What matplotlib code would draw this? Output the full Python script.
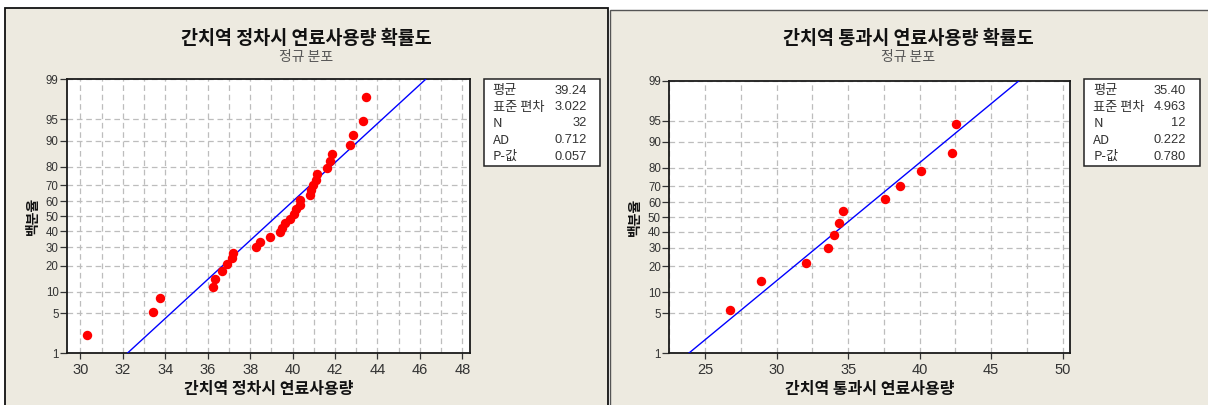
import numpy as np
import matplotlib
matplotlib.use("Agg")
import matplotlib.pyplot as plt
from matplotlib.patches import Rectangle
from matplotlib.ticker import FixedLocator, MultipleLocator, NullLocator
from statistics import NormalDist

# ---- data -------------------------------------------------------------
stop_fuel = [30.33, 33.44, 33.77, 36.23, 36.34, 36.69, 36.89, 37.13, 37.18,
             38.29, 38.46, 38.95, 39.43, 39.52, 39.63, 39.87, 40.07, 40.16,
             40.36, 40.36, 40.80, 40.87, 40.97, 41.11, 41.17, 41.64, 41.75,
             41.84, 42.72, 42.83, 43.31, 43.46]
pass_fuel = [26.77, 28.89, 32.06, 33.62, 34.04, 34.34, 34.62, 37.60, 38.61,
             40.07, 42.24, 42.56]

stop_stats = {"mean": 39.24, "sd": 3.022, "n": 32, "ad": 0.712, "p": 0.057}
pass_stats = {"mean": 35.40, "sd": 4.963, "n": 12, "ad": 0.222, "p": 0.780}

stat_labels = ["평균", "표준 편차", "N", "AD", "P-값"]
pct_ticks = [1, 5, 10, 20, 30, 40, 50, 60, 70, 80, 90, 95, 99]

stop_title = "간치역 정차시 연료사용량 확률도"
pass_title = "간치역 통과시 연료사용량 확률도"
subtitle = "정규 분포"
stop_xlabel = "간치역 정차시 연료사용량"
pass_xlabel = "간치역 통과시 연료사용량"
ylabel = "백분율"

# ---- styling ----------------------------------------------------------
W, H = 1208, 405
BG = "#EDEAE0"
KR = ["Noto Sans CJK KR", "DejaVu Sans"]
NUM = ["Liberation Sans", "DejaVu Sans"]
plt.rcParams["font.family"] = KR

_nd = NormalDist()
_ppf = np.vectorize(_nd.inv_cdf, otypes=[float])
_cdf = np.vectorize(_nd.cdf, otypes=[float])


def prob_fwd(p):
    q = np.clip(np.asarray(p, float) / 100.0, 1e-9, 1 - 1e-9)
    return _ppf(q)


def prob_inv(z):
    return _cdf(np.asarray(z, float)) * 100.0


def fx(x):
    return x / W


def fy(y):
    return 1 - y / H


fig = plt.figure(figsize=(W / 100, H / 100), dpi=100)
fig.patch.set_facecolor("white")

# panel backgrounds
fig.add_artist(Rectangle((fx(5), fy(420)), fx(603), (420 - 8) / H,
                         transform=fig.transFigure, facecolor=BG,
                         edgecolor="#111111", lw=1.3, zorder=0))
fig.add_artist(Rectangle((fx(609.5), fy(420)), fx(620), (420 - 10) / H,
                         transform=fig.transFigure, facecolor=BG,
                         edgecolor="#555555", lw=1.0, zorder=0))


def draw_panel(rect, values, st, xlim, major, minor, title, xlabel,
               panel_cx, box):
    ax = fig.add_axes(rect)
    ax.set_facecolor("white")
    ax.set_yscale("function", functions=(prob_fwd, prob_inv))
    ax.set_xlim(*xlim)
    ax.set_ylim(1, 99)

    ax.xaxis.set_major_locator(MultipleLocator(major))
    ax.xaxis.set_minor_locator(MultipleLocator(minor))
    ax.yaxis.set_major_locator(FixedLocator(pct_ticks))
    ax.yaxis.set_minor_locator(NullLocator())
    ax.set_yticklabels([str(t) for t in pct_ticks])

    grid_kw = dict(color="#BDBDBD", lw=0.9, linestyle=(0, (4.5, 3)))
    ax.grid(True, which="major", axis="both", **grid_kw)
    ax.grid(True, which="minor", axis="x", **grid_kw)
    ax.set_axisbelow(True)

    ax.tick_params(axis="x", which="major", length=4, width=0.9,
                   color="#333333", pad=3, labelsize=10.5,
                   labelcolor="#333333")
    ax.tick_params(axis="x", which="minor", length=0)
    ax.tick_params(axis="y", which="major", length=5, width=0.9,
                   color="#333333", pad=1, labelsize=8.3,
                   labelcolor="#333333")
    for lab in ax.get_xticklabels() + ax.get_yticklabels():
        lab.set_family(NUM)
    for sp in ax.spines.values():
        sp.set_color("#1A1A1A")
        sp.set_linewidth(1.3)

    # fitted normal line from the stated mean and standard deviation
    p_line = np.array([1.0, 99.0])
    x_line = st["mean"] + st["sd"] * prob_fwd(p_line)
    ax.plot(x_line, p_line, color="#0000FF", lw=1.0, zorder=3)

    # observations at median-rank plotting positions
    xs = np.sort(np.asarray(values))
    n = len(xs)
    pct = (np.arange(1, n + 1) - 0.3) / (n + 0.4) * 100
    ax.plot(xs, pct, "o", color="#FF0000", ms=6.8, mec="none", zorder=4,
            clip_on=False)

    ax.set_xlabel(xlabel, fontsize=11.5, fontweight="bold", labelpad=3,
                  color="#111111")
    ax.set_ylabel(ylabel, fontsize=10, fontweight="bold", labelpad=4,
                  color="#111111")

    fig.text(fx(panel_cx), fy(38.5), title, ha="center", va="center",
             fontsize=13.3, fontweight="bold", color="#111111")
    fig.text(fx(panel_cx), fy(56.5), subtitle, ha="center", va="center",
             fontsize=10, color="#555555")

    # summary statistics box
    bx0, by0, bx1, by1, tx0, tx1 = box
    fig.add_artist(Rectangle((fx(bx0), fy(by1)), (bx1 - bx0) / W,
                             (by1 - by0) / H, transform=fig.transFigure,
                             facecolor="white", edgecolor="#222222",
                             lw=1.1, zorder=2))
    vals = [f"{st['mean']:.2f}", f"{st['sd']:.3f}", f"{st['n']}",
            f"{st['ad']:.3f}", f"{st['p']:.3f}"]
    for i, (lab, v) in enumerate(zip(stat_labels, vals)):
        yy = 90.5 + i * 16.5
        fig.text(fx(tx0), fy(yy), lab, ha="left", va="center", fontsize=9.5,
                 color="#333333", zorder=3)
        fig.text(fx(tx1), fy(yy), v, ha="right", va="center", fontsize=9.3,
                 color="#333333", family=NUM, zorder=3)
    return ax


ax1 = draw_panel([fx(67), fy(353.3), (470 - 67) / W, (353.3 - 79.3) / H],
                 stop_fuel, stop_stats, (29.37, 48.36), 2, 1,
                 stop_title, stop_xlabel, 306.5,
                 (483.5, 79, 600, 165.7, 492.7, 586.7))
ax2 = draw_panel([fx(669.3), fy(353.3), (1070.3 - 669.3) / W,
                  (353.3 - 80.7) / H],
                 pass_fuel, pass_stats, (22.5, 50.53), 5, 2.5,
                 pass_title, pass_xlabel, 908.5,
                 (1084, 79, 1200, 165.7, 1093.3, 1186))

for ax in (ax1, ax2):
    ax.yaxis.set_label_coords(-0.068, 0.5)

fig.savefig("out.png", dpi=100, facecolor=fig.get_facecolor())
